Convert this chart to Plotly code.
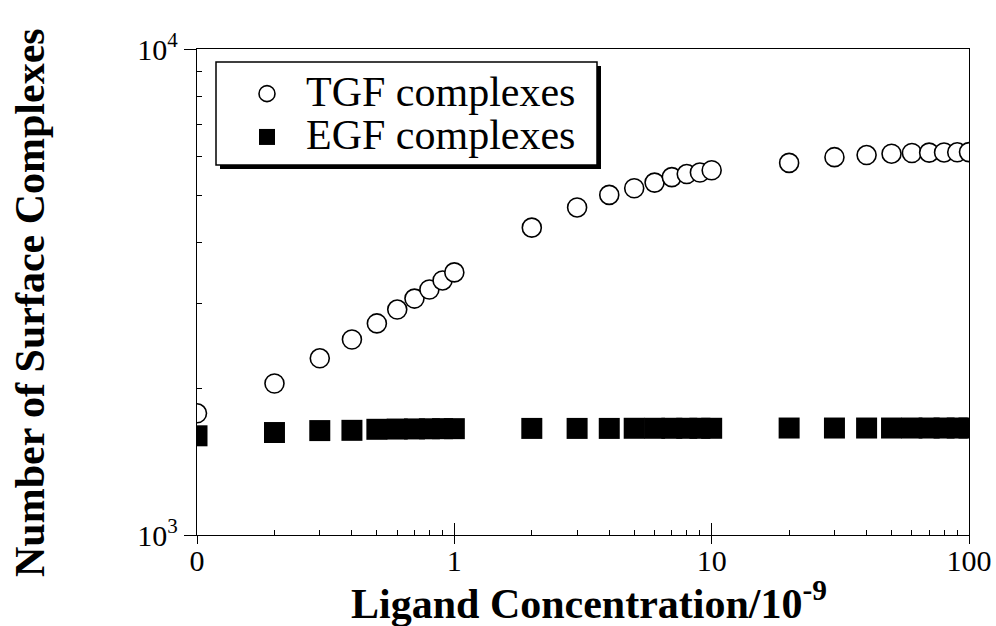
import plotly.graph_objects as go

# Ligand concentration (nM); the lowest point is the zero-ligand reference, plotted at 0.1
concentration = [0.1, 0.2, 0.3, 0.4, 0.5, 0.6, 0.7, 0.8, 0.9, 1,
                 2, 3, 4, 5, 6, 7, 8, 9, 10,
                 20, 30, 40, 50, 60, 70, 80, 90, 100]

tgf_complexes = [1780, 2050, 2310, 2525, 2725, 2910, 3065, 3200, 3340, 3470,
                 4290, 4720, 5010, 5170, 5310, 5450, 5530, 5570, 5630,
                 5830, 5990, 6050, 6090, 6110, 6120, 6125, 6130, 6135]

egf_complexes = [1600, 1625, 1640, 1642, 1650, 1652, 1653, 1654, 1655, 1655,
                 1657, 1657, 1657, 1658, 1658, 1658, 1658, 1658, 1658,
                 1660, 1660, 1660, 1660, 1660, 1660, 1660, 1660, 1660]

x_tick_vals = [0.1, 1, 10, 100]
x_tick_text = ["0", "1", "10", "100"]
y_tick_vals = [1000, 10000]
y_tick_text = ["10<sup>3</sup>", "10<sup>4</sup>"]

x_minor = [m * 10.0 ** e for e in (-1, 0, 1) for m in range(2, 10)]
y_minor = [m * 1000 for m in range(2, 10)]

SERIF = "Palatino Linotype, Book Antiqua, Palatino, Liberation Serif, serif"

# plot-area geometry in pixels, used to place the legend frame and titles
L, R, T, B = 197, 969, 49, 535
PW, PH = R - L, B - T


def px_x(px):
    return (px - L) / PW


def px_y(py):
    return (B - py) / PH


fig = go.Figure()

fig.add_trace(go.Scatter(
    x=concentration, y=tgf_complexes, mode="markers",
    name="<span style='font-size:42px'>TGF complexes</span>",
    marker=dict(symbol="circle", size=19, color="white",
                line=dict(color="black", width=1.6)),
))
fig.add_trace(go.Scatter(
    x=concentration, y=egf_complexes, mode="markers",
    name="<span style='font-size:42px'>EGF complexes</span>",
    marker=dict(symbol="square", size=21, color="black",
                line=dict(color="black", width=0)),
))
# helper trace that carries the inward major tick marks of the x axis
fig.add_trace(go.Scatter(x=[1], y=[1000], xaxis="x2", mode="markers",
                         marker=dict(opacity=0), showlegend=False,
                         hoverinfo="skip"))

fig.update_layout(
    width=996, height=626,
    margin=dict(l=L, r=996 - R, t=T, b=626 - B, autoexpand=False),
    paper_bgcolor="white", plot_bgcolor="white",
    font=dict(family=SERIF, color="black", size=30),
    xaxis=dict(
        type="log", range=[-1, 2], automargin=False,
        showline=True, linecolor="black", linewidth=1.3, mirror=True,
        showgrid=False, zeroline=False,
        tickmode="array", tickvals=x_tick_vals, ticktext=x_tick_text,
        ticks="outside", ticklen=8, tickwidth=1.2, tickcolor="black",
        ticklabelstandoff=-9,
        tickfont=dict(family=SERIF, size=30),
        minor=dict(tickmode="array", tickvals=x_minor, ticks="inside",
                   ticklen=5, tickwidth=1, tickcolor="black", showgrid=False),
    ),
    xaxis2=dict(
        type="log", range=[-1, 2], overlaying="x", anchor="y", side="bottom",
        automargin=False,
        showline=False, showgrid=False, zeroline=False,
        tickmode="array", tickvals=[1, 10],
        ticks="inside", ticklen=12, tickwidth=1.2, tickcolor="black",
        showticklabels=False,
    ),
    yaxis=dict(
        type="log", range=[3, 4], automargin=False,
        showline=True, linecolor="black", linewidth=1.3, mirror=True,
        showgrid=False, zeroline=False,
        tickmode="array", tickvals=y_tick_vals, ticktext=y_tick_text,
        ticks="outside", ticklen=12, tickwidth=1.2, tickcolor="black",
        tickfont=dict(family=SERIF, size=30),
        minor=dict(tickmode="array", tickvals=y_minor, ticks="inside",
                   ticklen=5, tickwidth=1, tickcolor="black", showgrid=False),
    ),
    legend=dict(
        x=px_x(228), y=px_y(67),
        xanchor="left", yanchor="top",
        bgcolor="rgba(0,0,0,0)", borderwidth=0,
        font=dict(family=SERIF, size=31),
        itemwidth=68,
    ),
    showlegend=True,
    annotations=[
        dict(text="<b>Ligand Concentration/10<sup>-9</sup></b>",
             xref="paper", yref="paper", x=px_x(589),
             y=px_y(600), xanchor="center", yanchor="middle",
             showarrow=False, font=dict(family=SERIF, size=42)),
        dict(text="<b>Number of Surface Complexes</b>",
             xref="paper", yref="paper", x=px_x(30),
             y=px_y(303), xanchor="center", yanchor="middle",
             textangle=-90, showarrow=False,
             font=dict(family=SERIF, size=42)),
    ],
    shapes=[
        # drop shadow of the legend frame
        dict(type="rect", xref="paper", yref="paper", layer="above",
             x0=px_x(220), x1=px_x(601), y0=px_y(169), y1=px_y(66),
             fillcolor="black", line=dict(width=0)),
        # legend frame
        dict(type="rect", xref="paper", yref="paper", layer="above",
             x0=px_x(216), x1=px_x(597), y0=px_y(165), y1=px_y(62),
             fillcolor="white", line=dict(color="black", width=1.5)),
    ],
)

fig.write_html("out.html")
